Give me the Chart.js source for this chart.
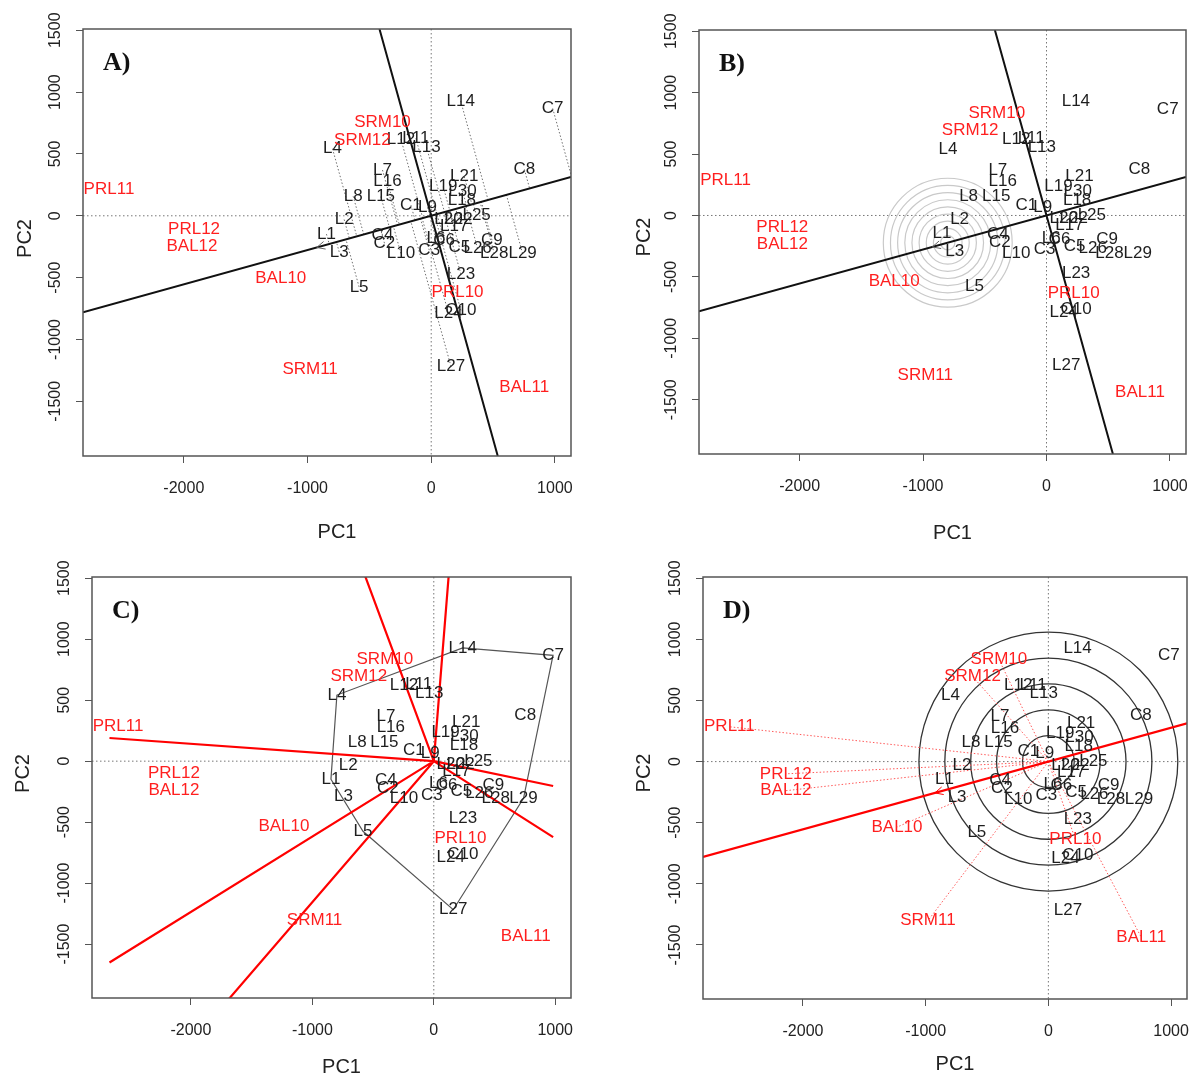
<!DOCTYPE html>
<html>
<head>
<meta charset="utf-8">
<script src="https://cdn.jsdelivr.net/npm/chart.js@4.4.0/dist/chart.umd.min.js"></script>
<style>
html, body { margin: 0; padding: 0; background: #fff; }
#wrap { position: relative; width: 1198px; height: 1077px; }
canvas { position: absolute; }
</style>
</head>
<body>
<div id="wrap">
  <canvas id="chartA" width="599" height="540" style="left:0px;top:0px;width:599px;height:540px"></canvas>
  <canvas id="chartB" width="599" height="540" style="left:599px;top:0px;width:599px;height:540px"></canvas>
  <canvas id="chartC" width="599" height="537" style="left:0px;top:540px;width:599px;height:537px"></canvas>
  <canvas id="chartD" width="599" height="537" style="left:599px;top:540px;width:599px;height:537px"></canvas>
</div>
<script>
// genotype scores (PC1, PC2)
var genotypes = ['L1','L2','L3','L4','L5','L6','L7','L8','L9','L10',
                 'L11','L12','L13','L14','L15','L16','L17','L18','L19','L20',
                 'L21','L22','L23','L24','L25','L26','L27','L28','L29','L30',
                 'C1','C2','C3','C4','C5','C6','C7','C8','C9','C10'];
var genoPC1 = [-847,-704,-744,-798,-583,38,-394,-631,-30,-245,
               -124,-245,-38,238,-407,-354,186,248,97,140,
               267,221,240,140,367,375,160,510,739,253,
               -164,-378,-16,-394,227,105,982,753,491,240];
var genoPC2 = [-148,-30,-292,542,-575,-183,370,158,68,-305,
               626,620,555,928,155,276,-84,127,235,-27,
               316,-27,-472,-790,0,-264,-1218,-305,-305,200,
               86,-222,-278,-157,-251,-197,868,375,-197,-765];

// environment scores (panels B, C, D) and as labelled in panel A
var envs = ['PRL10','PRL11','PRL12','BAL10','BAL11','BAL12','SRM10','SRM11','SRM12'];
var envPC1 = [220,-2600,-2140,-1234,757,-2140,-403,-982,-618];
var envPC2 = [-636,285,-100,-536,-1437,-238,835,-1302,696];
var envPC1A = [213,-2605,-1917,-1216,752,-1934,-394,-979,-556];
var envPC2A = [-617,210,-110,-509,-1388,-248,758,-1242,610];

// axes
var xTicks = [-2000,-1000,0,1000];
var yTicks = [-1500,-1000,-500,0,500,1000,1500];
var xRange = [-2815,1130];
var yRange = [-1942,1510];

// average environment axis and helpers
var aeaSlope = 0.277;
var avgEnvPC1 = -925;          // arrow on the AEA
var idealPC1 = -800;           // centre of grey rings (on the AEA)
var ringsB = [58,116,174,232,290,348,406,464,522];
var ringsD = [211,422,633,844,1055];
var rayPC1Limits = [-2671,983];

var panels = [
    {id:'chartA', tag:'A)', mode:'A', cx:0,   cy:0,   w:599, h:540, left:83,  top:29,  right:571,  bottom:456, pc1dy:82, pc2dx:52, pc2dy:-4},
    {id:'chartB', tag:'B)', mode:'B', cx:599, cy:0,   w:599, h:540, left:699, top:30,  right:1186, bottom:454, pc1dy:85, pc2dx:49, pc2dy:-5},
    {id:'chartC', tag:'C)', mode:'C', cx:0,   cy:540, w:599, h:537, left:92,  top:577, right:571,  bottom:998, pc1dy:75, pc2dx:63, pc2dy:-14},
    {id:'chartD', tag:'D)', mode:'D', cx:599, cy:540, w:599, h:537, left:703, top:577, right:1187, bottom:999, pc1dy:71, pc2dx:53, pc2dy:-15}
];

var RED = '#ff1f1f';
var LABEL_FONT = '17px "Liberation Sans", Arial, sans-serif';

function convexHull(pts) {
    var p = pts.slice().sort(function (a, b) { return a.x - b.x || a.y - b.y; });
    function cross(o, a, b) { return (a.x - o.x) * (b.y - o.y) - (a.y - o.y) * (b.x - o.x); }
    var lower = [], upper = [];
    p.forEach(function (q) {
        while (lower.length >= 2 && cross(lower[lower.length - 2], lower[lower.length - 1], q) <= 0) lower.pop();
        lower.push(q);
    });
    for (var i = p.length - 1; i >= 0; i--) {
        var q = p[i];
        while (upper.length >= 2 && cross(upper[upper.length - 2], upper[upper.length - 1], q) <= 0) upper.pop();
        upper.push(q);
    }
    upper.pop(); lower.pop();
    return lower.concat(upper);
}

var biplotPlugin = {
    id: 'biplot',
    afterDatasetsDraw: function (chart) {
        var p = chart.options.plugins.biplot;
        var ctx = chart.ctx, a = chart.chartArea;
        var sx = chart.scales.x, sy = chart.scales.y;
        var X = function (v) { return sx.getPixelForValue(v); };
        var Y = function (v) { return sy.getPixelForValue(v); };
        var unit = X(1) - X(0);
        var geno = chart.data.datasets[0].data;
        var env = chart.data.datasets[1].data;

        ctx.save();
        ctx.beginPath();
        ctx.rect(a.left, a.top, a.right - a.left, a.bottom - a.top);
        ctx.clip();

        // dotted zero lines
        ctx.strokeStyle = '#777';
        ctx.lineWidth = 1;
        ctx.setLineDash([1.5, 2.5]);
        ctx.beginPath();
        ctx.moveTo(a.left, Y(0)); ctx.lineTo(a.right, Y(0));
        ctx.moveTo(X(0), a.top); ctx.lineTo(X(0), a.bottom);
        ctx.stroke();

        if (p.mode === 'A') {
            // projections of genotypes onto the AEA
            ctx.strokeStyle = '#707070';
            ctx.setLineDash([1.5, 2]);
            ctx.beginPath();
            geno.forEach(function (g) {
                var t = (g.x + aeaSlope * g.y) / (1 + aeaSlope * aeaSlope);
                ctx.moveTo(X(g.x), Y(g.y));
                ctx.lineTo(X(t), Y(aeaSlope * t));
            });
            ctx.stroke();
        }
        ctx.setLineDash([]);

        if (p.mode === 'B') {
            ctx.strokeStyle = '#c9c9c9';
            ctx.lineWidth = 1.2;
            ringsB.forEach(function (r) {
                ctx.beginPath();
                ctx.arc(X(idealPC1), Y(aeaSlope * idealPC1), r * unit, 0, Math.PI * 2);
                ctx.stroke();
            });
        }
        if (p.mode === 'D') {
            ctx.strokeStyle = '#333';
            ctx.lineWidth = 1.3;
            ringsD.forEach(function (r) {
                ctx.beginPath();
                ctx.arc(X(0), Y(0), r * unit, 0, Math.PI * 2);
                ctx.stroke();
            });
            // environment vectors
            ctx.strokeStyle = '#ff5a5a';
            ctx.lineWidth = 1;
            ctx.setLineDash([1.5, 2]);
            ctx.beginPath();
            env.forEach(function (e) {
                ctx.moveTo(X(0), Y(0));
                ctx.lineTo(X(e.x), Y(e.y));
            });
            ctx.stroke();
            ctx.setLineDash([]);
        }

        if (p.mode === 'C') {
            // polygon of the outermost genotypes and the sector rays
            var hull = convexHull(geno);
            ctx.strokeStyle = '#555';
            ctx.lineWidth = 1.2;
            ctx.beginPath();
            hull.forEach(function (h, i) {
                if (i === 0) ctx.moveTo(X(h.x), Y(h.y)); else ctx.lineTo(X(h.x), Y(h.y));
            });
            ctx.closePath();
            ctx.stroke();

            ctx.strokeStyle = '#ff0000';
            ctx.lineWidth = 2.2;
            ctx.beginPath();
            hull.forEach(function (h, i) {
                var q = hull[(i + 1) % hull.length];
                var dx = q.x - h.x, dy = q.y - h.y;
                var t = -(h.x * dx + h.y * dy) / (dx * dx + dy * dy);
                var fx = h.x + t * dx, fy = h.y + t * dy;
                var lim = fx > 0 ? rayPC1Limits[1] : rayPC1Limits[0];
                var k = lim / fx;
                ctx.moveTo(X(0), Y(0));
                ctx.lineTo(X(fx * k), Y(fy * k));
            });
            ctx.stroke();
        }

        // average environment axis (and its perpendicular)
        if (p.mode !== 'C') {
            ctx.strokeStyle = p.mode === 'D' ? '#ff0000' : '#111';
            ctx.lineWidth = p.mode === 'D' ? 2.2 : 2;
            ctx.beginPath();
            ctx.moveTo(X(xRange[0]), Y(aeaSlope * xRange[0]));
            ctx.lineTo(X(xRange[1]), Y(aeaSlope * xRange[1]));
            if (p.mode !== 'D') {
                ctx.moveTo(X(-yRange[1] * aeaSlope), Y(yRange[1]));
                ctx.lineTo(X(-yRange[0] * aeaSlope), Y(yRange[0]));
            }
            ctx.stroke();

            // small arrow head on the AEA
            var tx = X(avgEnvPC1), ty = Y(aeaSlope * avgEnvPC1);
            var ang = Math.atan2(Y(aeaSlope) - Y(0), X(1) - X(0));
            ctx.strokeStyle = p.mode === 'D' ? '#ff0000' : '#666';
            ctx.lineWidth = 1;
            ctx.beginPath();
            [0.45, -0.45].forEach(function (d) {
                ctx.moveTo(tx, ty);
                ctx.lineTo(tx + 9 * Math.cos(ang + d), ty + 9 * Math.sin(ang + d));
            });
            ctx.stroke();
        }
        ctx.restore();

        // labels
        ctx.save();
        ctx.font = LABEL_FONT;
        ctx.textAlign = 'center';
        ctx.textBaseline = 'middle';
        ctx.fillStyle = '#1e1e1e';
        chart.getDatasetMeta(0).data.forEach(function (pt, i) {
            ctx.fillText(genotypes[i], pt.x, pt.y);
        });
        ctx.fillStyle = RED;
        chart.getDatasetMeta(1).data.forEach(function (pt, i) {
            ctx.fillText(envs[i], pt.x, pt.y);
        });
        ctx.restore();
    },
    afterDraw: function (chart) {
        var p = chart.options.plugins.biplot;
        var ctx = chart.ctx, a = chart.chartArea;
        var sy = chart.scales.y;
        ctx.save();
        ctx.strokeStyle = '#555';
        ctx.lineWidth = 1.5;
        ctx.strokeRect(a.left, a.top, a.right - a.left, a.bottom - a.top);

        // panel letter
        ctx.fillStyle = '#111';
        ctx.font = 'bold 26px "Liberation Serif", "Times New Roman", serif';
        ctx.textAlign = 'left';
        ctx.textBaseline = 'alphabetic';
        ctx.fillText(p.tag, a.left + 20, a.top + 41);

        // rotated y tick labels, R style
        ctx.fillStyle = '#222';
        ctx.font = '16px "Liberation Sans", Arial, sans-serif';
        ctx.textAlign = 'center';
        yTicks.forEach(function (v) {
            ctx.save();
            ctx.translate(a.left - 23, sy.getPixelForValue(v));
            ctx.rotate(-Math.PI / 2);
            ctx.fillText(String(v), 0, 0);
            ctx.restore();
        });

        // axis titles
        ctx.font = '20px "Liberation Sans", Arial, sans-serif';
        ctx.fillText('PC1', (a.left + a.right) / 2 + 10, a.bottom + p.pc1dy);
        ctx.save();
        ctx.translate(a.left - p.pc2dx, (a.top + a.bottom) / 2 + p.pc2dy);
        ctx.rotate(-Math.PI / 2);
        ctx.fillText('PC2', 0, 0);
        ctx.restore();
        ctx.restore();
    }
};

function makePanel(p) {
    var genoPts = genotypes.map(function (g, i) { return {x: genoPC1[i], y: genoPC2[i]}; });
    var ex = p.mode === 'A' ? envPC1A : envPC1;
    var ey = p.mode === 'A' ? envPC2A : envPC2;
    var envPts = envs.map(function (e, i) { return {x: ex[i], y: ey[i]}; });
    var ctx = document.getElementById(p.id).getContext('2d');
    return new Chart(ctx, {
        type: 'scatter',
        data: {
            datasets: [
                {label: 'genotypes', data: genoPts, pointRadius: 0, pointHoverRadius: 0},
                {label: 'environments', data: envPts, pointRadius: 0, pointHoverRadius: 0}
            ]
        },
        options: {
            responsive: false,
            animation: false,
            events: [],
            layout: {
                padding: {left: 0, top: p.top - p.cy, right: p.cx + p.w - p.right, bottom: 0}
            },
            plugins: {
                legend: {display: false},
                tooltip: {enabled: false},
                biplot: p
            },
            scales: {
                x: {
                    type: 'linear',
                    min: xRange[0],
                    max: xRange[1],
                    afterBuildTicks: function (s) { s.ticks = xTicks.map(function (v) { return {value: v}; }); },
                    afterFit: function (s) {
                        s.height = p.cy + p.h - p.bottom;
                        s.paddingLeft = 0; s.paddingRight = 0;   // keep the plot box where it is
                    },
                    grid: {drawOnChartArea: false, drawTicks: true, tickLength: 7, color: '#555'},
                    border: {display: false},
                    ticks: {
                        autoSkip: false, maxRotation: 0, padding: 16, color: '#222',
                        font: {family: '"Liberation Sans", Arial, sans-serif', size: 16},
                        callback: function (v) { return String(v); }
                    }
                },
                y: {
                    type: 'linear',
                    min: yRange[0],
                    max: yRange[1],
                    afterBuildTicks: function (s) { s.ticks = yTicks.map(function (v) { return {value: v}; }); },
                    afterFit: function (s) {
                        s.width = p.left - p.cx;
                        s.paddingTop = 0; s.paddingBottom = 0;
                    },
                    grid: {drawOnChartArea: false, drawTicks: true, tickLength: 7, color: '#555'},
                    border: {display: false},
                    ticks: {autoSkip: false, callback: function () { return ''; }}
                }
            }
        },
        plugins: [biplotPlugin]
    });
}

panels.forEach(makePanel);
</script>
</body>
</html>
